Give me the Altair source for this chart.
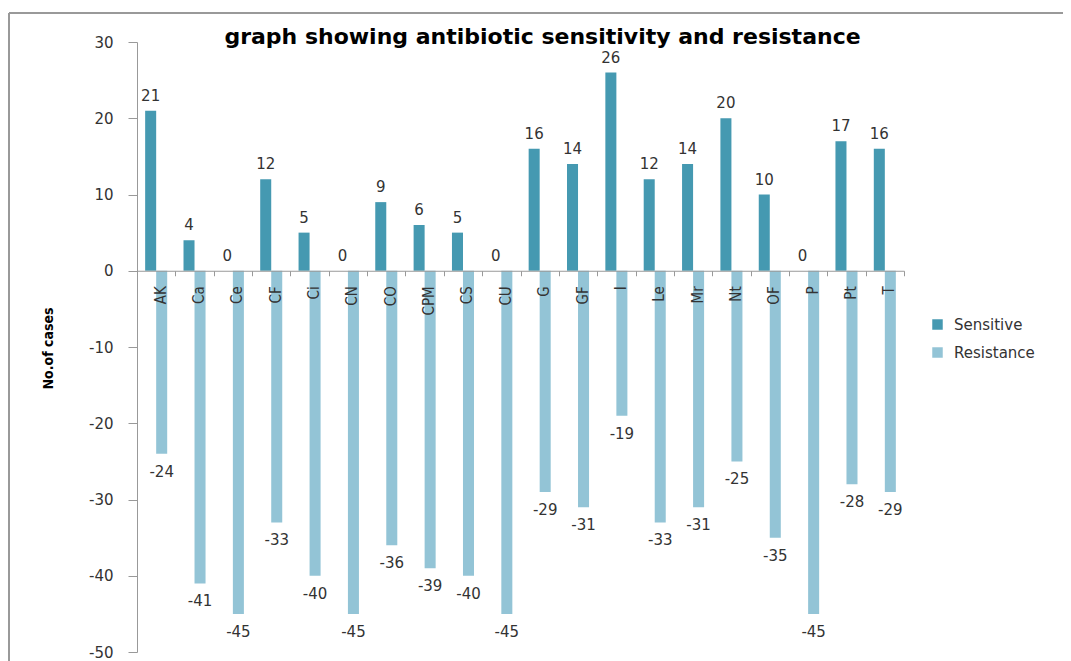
import altair as alt
import pandas as pd

categories = ["AK", "Ca", "Ce", "CF", "Ci", "CN", "CO", "CPM", "CS", "CU",
              "G", "GF", "I", "Le", "Mr", "Nt", "OF", "P", "Pt", "T"]
sensitive = [21, 4, 0, 12, 5, 0, 9, 6, 5, 0, 16, 14, 26, 12, 14, 20, 10, 0, 17, 16]
resistance = [-24, -41, -45, -33, -40, -45, -36, -39, -40, -45,
              -29, -31, -19, -33, -31, -25, -35, -45, -28, -29]
series_names = ["Sensitive", "Resistance"]
series_colors = ["#4599B1", "#93C4D6"]
y_ticks = [-50, -40, -30, -20, -10, 0, 10, 20, 30]

rows = []
for c, s, r in zip(categories, sensitive, resistance):
    rows.append({"drug": c, "series": "Sensitive", "value": s})
    rows.append({"drug": c, "series": "Resistance", "value": r})
df = pd.DataFrame(rows)

W, H = 767, 610
ZERO_OFFSET = -(H - H * 30 / 80)
NUM_FONT = "DejaVu Sans"
NARROW = "Liberation Sans Narrow, DejaVu Sans Condensed, Roboto Condensed, Arial Narrow, sans-serif"

x_enc = alt.X(
    "drug:N", sort=categories,
    scale=alt.Scale(paddingInner=0, paddingOuter=0),
    axis=alt.Axis(
        title=None, labelAngle=-90, offset=ZERO_OFFSET, tickBand="extent",
        tickSize=5, labelPadding=10, labelFont=NARROW, labelFontSize=15,
        labelColor="#333", domainColor="#999", tickColor="#999", zindex=1,
        labelOffset=4,
    ),
)
xo_enc = alt.XOffset(
    "series:N", sort=series_names,
    scale=alt.Scale(domain=series_names, paddingInner=0, paddingOuter=0.74),
)
y_enc = alt.Y(
    "value:Q",
    scale=alt.Scale(domain=[-50, 30], nice=False, zero=False),
    axis=alt.Axis(
        values=y_ticks, title="No.of cases", grid=False, tickSize=9,
        labelPadding=15, domainColor="#999", tickColor="#999",
        labelFont=NUM_FONT, labelFontSize=15, labelColor="#333",
        labelExpr="'' + datum.value",
        titleFont=NARROW, titleFontSize=14, titleFontWeight="bold",
        titleColor="#000", titleX=-89, titleY=306, titleBaseline="middle",
    ),
)
color_enc = alt.Color(
    "series:N",
    scale=alt.Scale(domain=series_names, range=series_colors),
    legend=alt.Legend(
        title=None, orient="none", legendX=793, legendY=275,
        symbolType="square", symbolSize=110, symbolStrokeWidth=0,
        labelFont=NUM_FONT, labelFontSize=15, labelColor="#333",
        rowPadding=12, labelOffset=9,
    ),
)

base = alt.Chart(df).transform_calculate(label="'' + datum.value")

bars = base.mark_bar().encode(x=x_enc, xOffset=xo_enc, y=y_enc, color=color_enc)

sens_text = base.transform_filter(alt.datum.series == "Sensitive").mark_text(
    dy=-15, baseline="middle", font=NUM_FONT, fontSize=15, color="#333"
).encode(x=x_enc, xOffset=xo_enc, y=y_enc, text="label:N")

res_text = base.transform_filter(alt.datum.series == "Resistance").mark_text(
    dy=18, baseline="middle", font=NUM_FONT, fontSize=15, color="#333"
).encode(x=x_enc, xOffset=xo_enc, y=y_enc, text="label:N")

frame_left = alt.Chart(pd.DataFrame({"k": [0]})).mark_rule(color="#999", strokeWidth=2).encode(
    x=alt.value(-128), y=alt.value(-29), y2=alt.value(640)
)
frame_top = alt.Chart(pd.DataFrame({"k": [0]})).mark_rule(color="#999", strokeWidth=2).encode(
    x=alt.value(-128), x2=alt.value(940), y=alt.value(-29)
)

chart = alt.layer(frame_left, frame_top, bars, sens_text, res_text).properties(
    width=W, height=H,
    background="white",
    title=alt.TitleParams(
        text="graph showing antibiotic sensitivity and resistance",
        font=NUM_FONT, fontSize=22, fontWeight="bold", color="#000",
        anchor="middle", frame="group", offset=0, baseline="alphabetic", dx=22, dy=54,
    ),
    autosize=alt.AutoSizeParams(type="none"),
    padding={"left": 129, "top": 34, "right": 159, "bottom": 10},
).configure_view(stroke=None)

chart.save("out.html", embed_options={"renderer": "svg", "actions": False})
